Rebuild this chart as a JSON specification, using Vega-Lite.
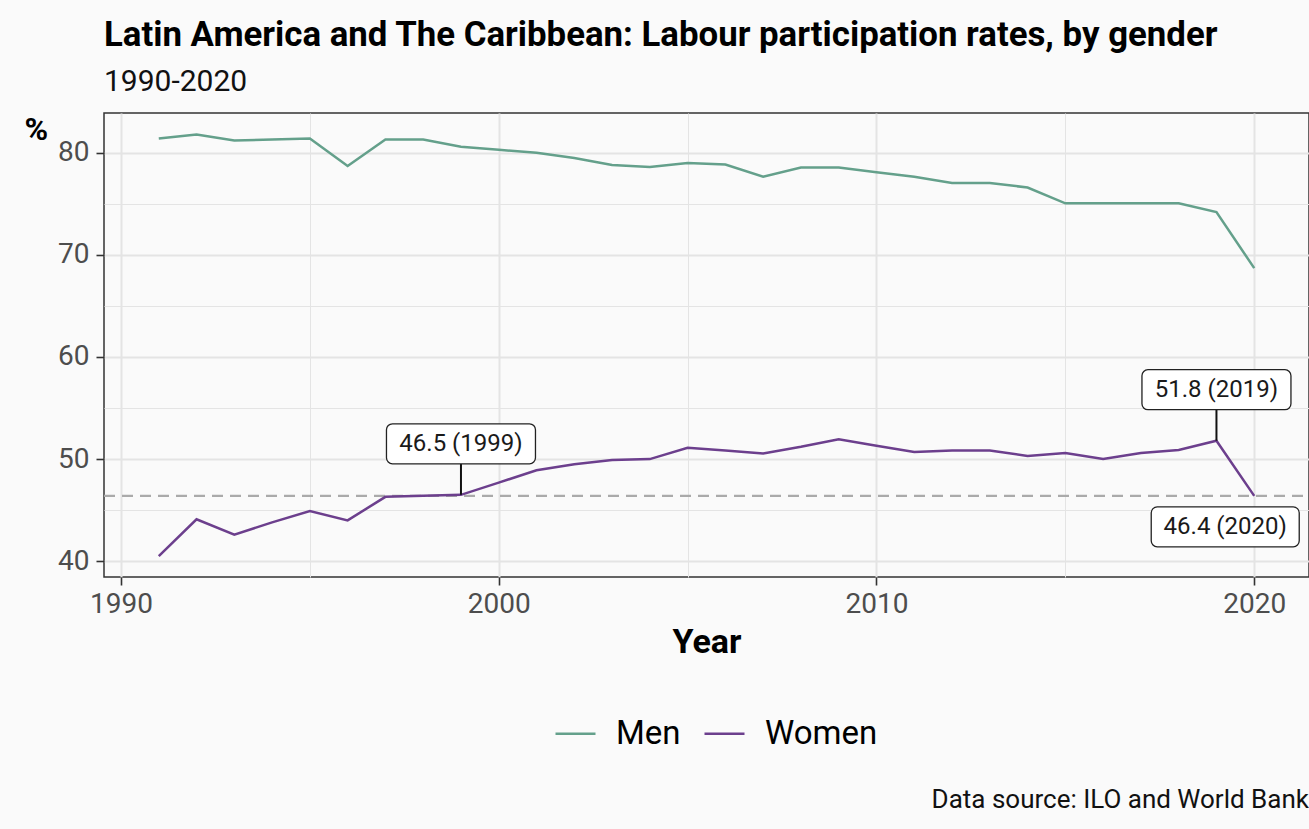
{
  "$schema": "https://vega.github.io/schema/vega-lite/v6.json",
  "width": 1205,
  "height": 464,
  "autosize": {"type": "none"},
  "padding": {"left": 104, "top": 113, "right": 0, "bottom": 252},
  "background": "#fafafa",
  "config": {
    "font": "Roboto",
    "view": {"stroke": "#333333", "strokeWidth": 1.5, "fill": "#fafafa"},
    "axis": {
      "domain": false,
      "labelFont": "Roboto",
      "labelFontSize": 28,
      "labelColor": "#4d4d4d",
      "tickColor": "#333333",
      "tickWidth": 1.6,
      "tickSize": 8,
      "gridColor": "#e4e4e4",
      "titleColor": "#000000",
      "titleFontWeight": "bold"
    }
  },
  "title": {
    "text": "Latin America and The Caribbean: Labour participation rates, by gender",
    "subtitle": "1990-2020",
    "anchor": "start",
    "frame": "group",
    "fontSize": 34.8,
    "fontWeight": "bold",
    "color": "#000000",
    "subtitleFontSize": 30,
    "subtitleColor": "#111111",
    "subtitlePadding": 13,
    "offset": 15
  },
  "datasets": {
    "lines": [
      {"year": 1991, "gender": "Men", "value": 81.4},
      {"year": 1992, "gender": "Men", "value": 81.8},
      {"year": 1993, "gender": "Men", "value": 81.2},
      {"year": 1994, "gender": "Men", "value": 81.3},
      {"year": 1995, "gender": "Men", "value": 81.4},
      {"year": 1996, "gender": "Men", "value": 78.7},
      {"year": 1997, "gender": "Men", "value": 81.3},
      {"year": 1998, "gender": "Men", "value": 81.3},
      {"year": 1999, "gender": "Men", "value": 80.6},
      {"year": 2000, "gender": "Men", "value": 80.3},
      {"year": 2001, "gender": "Men", "value": 80.0},
      {"year": 2002, "gender": "Men", "value": 79.5},
      {"year": 2003, "gender": "Men", "value": 78.8},
      {"year": 2004, "gender": "Men", "value": 78.6},
      {"year": 2005, "gender": "Men", "value": 79.0},
      {"year": 2006, "gender": "Men", "value": 78.85},
      {"year": 2007, "gender": "Men", "value": 77.65},
      {"year": 2008, "gender": "Men", "value": 78.55},
      {"year": 2009, "gender": "Men", "value": 78.55},
      {"year": 2010, "gender": "Men", "value": 78.1},
      {"year": 2011, "gender": "Men", "value": 77.65},
      {"year": 2012, "gender": "Men", "value": 77.05},
      {"year": 2013, "gender": "Men", "value": 77.05},
      {"year": 2014, "gender": "Men", "value": 76.6},
      {"year": 2015, "gender": "Men", "value": 75.05},
      {"year": 2016, "gender": "Men", "value": 75.05},
      {"year": 2017, "gender": "Men", "value": 75.05},
      {"year": 2018, "gender": "Men", "value": 75.05},
      {"year": 2019, "gender": "Men", "value": 74.2},
      {"year": 2020, "gender": "Men", "value": 68.7},
      {"year": 1991, "gender": "Women", "value": 40.5},
      {"year": 1992, "gender": "Women", "value": 44.1},
      {"year": 1993, "gender": "Women", "value": 42.6},
      {"year": 1994, "gender": "Women", "value": 43.8},
      {"year": 1995, "gender": "Women", "value": 44.9},
      {"year": 1996, "gender": "Women", "value": 44.0},
      {"year": 1997, "gender": "Women", "value": 46.3},
      {"year": 1998, "gender": "Women", "value": 46.4},
      {"year": 1999, "gender": "Women", "value": 46.5},
      {"year": 2000, "gender": "Women", "value": 47.7},
      {"year": 2001, "gender": "Women", "value": 48.9},
      {"year": 2002, "gender": "Women", "value": 49.5},
      {"year": 2003, "gender": "Women", "value": 49.9},
      {"year": 2004, "gender": "Women", "value": 50.0},
      {"year": 2005, "gender": "Women", "value": 51.1},
      {"year": 2006, "gender": "Women", "value": 50.85},
      {"year": 2007, "gender": "Women", "value": 50.55},
      {"year": 2008, "gender": "Women", "value": 51.2},
      {"year": 2009, "gender": "Women", "value": 51.95},
      {"year": 2010, "gender": "Women", "value": 51.3},
      {"year": 2011, "gender": "Women", "value": 50.7},
      {"year": 2012, "gender": "Women", "value": 50.85},
      {"year": 2013, "gender": "Women", "value": 50.85},
      {"year": 2014, "gender": "Women", "value": 50.3},
      {"year": 2015, "gender": "Women", "value": 50.6},
      {"year": 2016, "gender": "Women", "value": 50.0},
      {"year": 2017, "gender": "Women", "value": 50.6},
      {"year": 2018, "gender": "Women", "value": 50.9},
      {"year": 2019, "gender": "Women", "value": 51.8},
      {"year": 2020, "gender": "Women", "value": 46.4}
    ],
    "notes": [
      {"year": 1999, "value": 46.5, "label": "46.5 (1999)"},
      {"year": 2019, "value": 51.8, "label": "51.8 (2019)"},
      {"year": 2020, "value": 46.4, "label": "46.4 (2020)"}
    ],
    "sources": [
      {"text": "Data source: ILO and World Bank"}
    ]
  },
  "layer": [
    {
      "encoding": {
        "x": {
          "field": "year", "type": "quantitative",
          "scale": {"domain": [1989.55, 2021.45], "nice": false, "zero": false},
          "axis": {
            "title": "Year",
            "values": [1990, 1995, 2000, 2005, 2010, 2015, 2020],
            "format": "d",
            "labelExpr": "datum.value % 10 === 0 ? datum.label : ''",
            "tickOpacity": {"condition": {"test": "datum.value % 10 === 0", "value": 1}, "value": 0},
            "gridWidth": {"condition": {"test": "datum.value % 10 === 0", "value": 2}, "value": 1},
            "labelPadding": 5,
            "titleFontSize": 34,
            "titlePadding": 7
          }
        },
        "y": {
          "field": "value", "type": "quantitative",
          "scale": {"domain": [38.45, 83.9], "nice": false, "zero": false},
          "axis": {
            "title": "%",
            "values": [40, 45, 50, 55, 60, 65, 70, 75, 80],
            "labelExpr": "datum.value % 10 === 0 ? datum.label : ''",
            "tickOpacity": {"condition": {"test": "datum.value % 10 === 0", "value": 1}, "value": 0},
            "gridWidth": {"condition": {"test": "datum.value % 10 === 0", "value": 2}, "value": 1},
            "labelPadding": 7,
            "titleAngle": 0,
            "titleX": -80,
            "titleY": 26,
            "titleAlign": "left",
            "titleBaseline": "alphabetic",
            "titleFontSize": 32
          }
        }
      },
      "layer": [
        {
          "data": {"name": "notes"},
          "transform": [{"filter": "datum.year == 2020"}],
          "mark": {"type": "rule", "color": "#aaaaaa", "strokeWidth": 2.4, "strokeDash": [11, 7]},
          "encoding": {
            "x": {"datum": 1989.55, "type": "quantitative"},
            "x2": {"datum": 2021.45}
          }
        },
        {
          "data": {"name": "lines"},
          "mark": {"type": "line", "strokeWidth": 2.5},
          "encoding": {
            "color": {
              "field": "gender", "type": "nominal",
              "scale": {"domain": ["Men", "Women"], "range": ["#64a08b", "#6c3f8d"]},
              "legend": {
                "title": null,
                "orient": "none",
                "legendX": 450,
                "legendY": 599,
                "direction": "horizontal",
                "symbolType": "stroke",
                "symbolSize": 1600,
                "symbolStrokeWidth": 2.5,
                "labelFontSize": 33,
                "labelColor": "#000000",
                "labelOffset": 19,
                "columnPadding": 18,
                "padding": 0
              }
            }
          }
        },
        {
          "data": {"name": "notes"},
          "transform": [{"filter": "datum.year != 2020"}],
          "mark": {"type": "rule", "color": "#111111", "strokeWidth": 2, "y2Offset": -31},
          "encoding": {
            "y2": {"field": "value"}
          }
        },
        {
          "data": {"name": "notes"},
          "transform": [{"filter": "datum.year != 2020"}],
          "mark": {"type": "rect", "width": 149, "height": 40, "yOffset": -51, "cornerRadius": 6, "fill": "#ffffff", "stroke": "#222222", "strokeWidth": 1.3}
        },
        {
          "data": {"name": "notes"},
          "transform": [{"filter": "datum.year != 2020"}],
          "mark": {"type": "text", "dy": -51, "fontSize": 24, "color": "#1a1a1a", "align": "center", "baseline": "middle"},
          "encoding": {"text": {"field": "label"}}
        },
        {
          "data": {"name": "notes"},
          "transform": [{"filter": "datum.year == 2020"}],
          "mark": {"type": "rect", "width": 148, "height": 40, "xOffset": -29, "yOffset": 31, "cornerRadius": 6, "fill": "#ffffff", "stroke": "#222222", "strokeWidth": 1.3}
        },
        {
          "data": {"name": "notes"},
          "transform": [{"filter": "datum.year == 2020"}],
          "mark": {"type": "text", "dx": -29, "dy": 31, "fontSize": 24, "color": "#1a1a1a", "align": "center", "baseline": "middle"},
          "encoding": {"text": {"field": "label"}}
        }
      ]
    },
    {
      "data": {"name": "sources"},
      "mark": {"type": "text", "fontSize": 26, "color": "#111111", "align": "right", "baseline": "alphabetic", "clip": false},
      "encoding": {
        "x": {"datum": 2021.45, "type": "quantitative", "scale": {"domain": [1989.55, 2021.45], "nice": false, "zero": false}},
        "y": {"datum": 15.8, "type": "quantitative", "scale": {"domain": [38.45, 83.9], "nice": false, "zero": false}},
        "text": {"field": "text"}
      }
    }
  ]
}
